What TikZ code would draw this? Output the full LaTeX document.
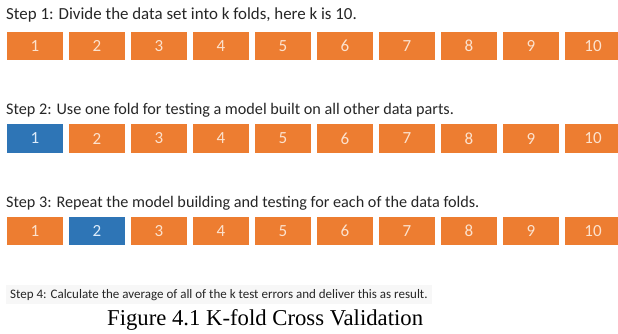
\documentclass[tikz,border=0pt]{standalone}
\usepackage{fontspec}
\setmainfont{Carlito}
\newfontfamily\captionfont{Liberation Serif}
\usepackage{tikz}
\usetikzlibrary{positioning}
\definecolor{foldOrange}{RGB}{237,125,49}
\definecolor{foldBlue}{RGB}{46,117,182}
\definecolor{orangeText}{RGB}{252,226,206}
\definecolor{blueText}{RGB}{222,236,250}
\definecolor{stepGray}{RGB}{38,38,38}
\definecolor{noteBack}{RGB}{247,247,247}

\begin{document}
\begin{tikzpicture}[
    x=1pt, y=-1pt,
    steptext/.style={anchor=base west, inner sep=0pt, text=stepGray,
                     font=\fontsize{16.2}{19}\selectfont},
    fold/.style={rectangle, fill=foldOrange, text=orangeText,
                 minimum width=56pt, minimum height=28.5pt, inner sep=0pt,
                 font=\fontsize{17}{19}\selectfont},
    testfold/.style={fold, fill=foldBlue, text=blueText},
  ]
    \useasboundingbox (0,0) rectangle (618,334);
    \clip (0,0) rectangle (618,334);

    % Step 1: all folds
    \node[steptext, font=\fontsize{16.9}{19}\selectfont] (S1) at (6,20)
      {Step 1: Divide the data set into k folds, here k is 10.};
    \foreach \i in {1,...,10}
      \node[fold] (A\i) at ({35+62*(\i-1)},46) {\i};

    % Step 2: first fold for testing
    \node[steptext] (S2) at (6,114)
      {Step 2: Use one fold for testing a model built on all other data parts.};
    \foreach \i in {1,...,10}{
      \ifnum\i=1 \def\foldstyle{testfold}\else\def\foldstyle{fold}\fi
      \node[\foldstyle] (B\i) at ({35+62*(\i-1)},138.5) {\i};
    }

    % Step 3: next fold for testing
    \node[steptext] (S3) at (6,207)
      {Step 3: Repeat the model building and testing for each of the data folds.};
    \foreach \i in {1,...,10}{
      \ifnum\i=2 \def\foldstyle{testfold}\else\def\foldstyle{fold}\fi
      \node[\foldstyle] (C\i) at ({35+62*(\i-1)},231) {\i};
    }

    % Step 4 and caption
    \node[steptext, font=\fontsize{13}{16}\selectfont, fill=noteBack,
          inner xsep=4pt, inner ysep=4pt] (S4) at (6,298)
      {Step 4: Calculate the average of all of the k test errors and deliver this as result.};
    \node[anchor=base west, inner sep=0pt, font=\captionfont\fontsize{22.7}{26}\selectfont]
      (CAP) at (107,325) {Figure 4.1 K-fold Cross Validation};
  \end{tikzpicture}
\end{document}
